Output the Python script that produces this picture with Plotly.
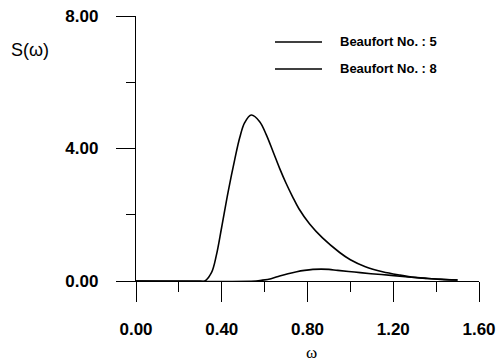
import plotly.graph_objects as go

# Data
omega_a = [0.0, 0.30, 0.321, 0.352, 0.375, 0.399, 0.43, 0.46, 0.484, 0.507, 0.538, 0.577, 0.608,
           0.639, 0.67, 0.70, 0.73, 0.76, 0.81, 0.87, 0.95, 1.00, 1.07, 1.15, 1.23, 1.30, 1.38, 1.50]
S_a = [0.0, 0.0, 0.0, 0.25, 0.78, 1.60, 2.70, 3.65, 4.33, 4.78, 5.01, 4.81, 4.41,
       3.91, 3.40, 2.95, 2.55, 2.18, 1.72, 1.30, 0.86, 0.64, 0.43, 0.28, 0.18, 0.11, 0.07, 0.03]

omega_b = [0.0, 0.56, 0.585, 0.63, 0.67, 0.709, 0.75, 0.786, 0.825, 0.864, 0.90, 0.941, 1.019,
           1.096, 1.19, 1.27, 1.35, 1.42, 1.50]
S_b = [0.0, 0.0, 0.02, 0.07, 0.15, 0.22, 0.28, 0.32, 0.35, 0.36, 0.35, 0.32, 0.27,
       0.22, 0.17, 0.12, 0.08, 0.05, 0.03]

legend_labels = ["Beaufort No. : 5", "Beaufort No. : 8"]
x_ticks = [0.0, 0.4, 0.8, 1.2, 1.6]
x_ticklabels = ["0.00", "0.40", "0.80", "1.20", "1.60"]
y_ticks = [0, 4, 8]
y_ticklabels = ["0.00", "4.00", "8.00"]

fig = go.Figure()
fig.add_trace(go.Scatter(x=omega_b, y=S_b, mode="lines", name=legend_labels[0],
                         line=dict(color="black", width=1.6, shape="spline", smoothing=1.0),
                         showlegend=False))
fig.add_trace(go.Scatter(x=omega_a, y=S_a, mode="lines", name=legend_labels[1],
                         line=dict(color="black", width=1.6, shape="spline", smoothing=1.0),
                         showlegend=False))

tickfont = dict(family="Liberation Sans, Arial, sans-serif", size=17, color="black")

fig.update_layout(
    width=500, height=362,
    margin=dict(l=136, r=21, t=16, b=81),
    paper_bgcolor="white", plot_bgcolor="white",
    xaxis=dict(range=[0, 1.6], tickvals=x_ticks, ticktext=["<b>%s</b>" % t for t in x_ticklabels],
               showgrid=False, zeroline=False, showline=True, linecolor="black", linewidth=1.3,
               ticks="outside", ticklen=20, tickwidth=1, tickcolor="black", automargin=False,
               minor=dict(tickvals=[0.2, 0.6, 1.0, 1.4], ticks="outside", ticklen=10,
                          tickwidth=1, tickcolor="black", showgrid=False),
               tickfont=tickfont, ticklabelstandoff=12),
    yaxis=dict(range=[0, 8], tickvals=y_ticks, ticktext=["<b>%s</b>" % t for t in y_ticklabels],
               showgrid=False, zeroline=False, showline=True, linecolor="black", linewidth=1.3,
               ticks="outside", ticklen=19, tickwidth=1, tickcolor="black", automargin=False,
               minor=dict(tickvals=[2, 6], ticks="outside", ticklen=9,
                          tickwidth=1, tickcolor="black", showgrid=False),
               tickfont=tickfont, ticklabelstandoff=14),
)

# axis titles
fig.add_annotation(text="S(ω)", xref="paper", yref="paper", x=-0.31, y=0.87,
                   xanchor="center", yanchor="middle", showarrow=False,
                   font=dict(family="Liberation Sans, Arial, sans-serif", size=18, color="black"))
fig.add_annotation(text="ω", xref="paper", yref="paper", x=0.512, y=-0.27,
                   xanchor="center", yanchor="middle", showarrow=False,
                   font=dict(family="Liberation Serif, Times New Roman, serif", size=17, color="black"))

# manual legend
leg_y = [42, 69]
for i, lab in enumerate(legend_labels):
    ypap = 1 - (leg_y[i] - 16) / (281 - 16)
    x0 = (275 - 136) / (479 - 136)
    x1 = (322 - 136) / (479 - 136)
    fig.add_shape(type="line", xref="paper", yref="paper", x0=x0, x1=x1, y0=ypap, y1=ypap,
                  line=dict(color="black", width=1.6))
    fig.add_annotation(text="<b>%s</b>" % lab, xref="paper", yref="paper",
                       x=(338 - 136) / (479 - 136), y=ypap, xanchor="left", yanchor="middle",
                       showarrow=False,
                       font=dict(family="Liberation Sans, Arial, sans-serif", size=13, color="black"))

fig.write_html("out.html", config={"displayModeBar": False},
               post_script="document.body.style.margin='0';document.body.style.overflow='hidden';")
